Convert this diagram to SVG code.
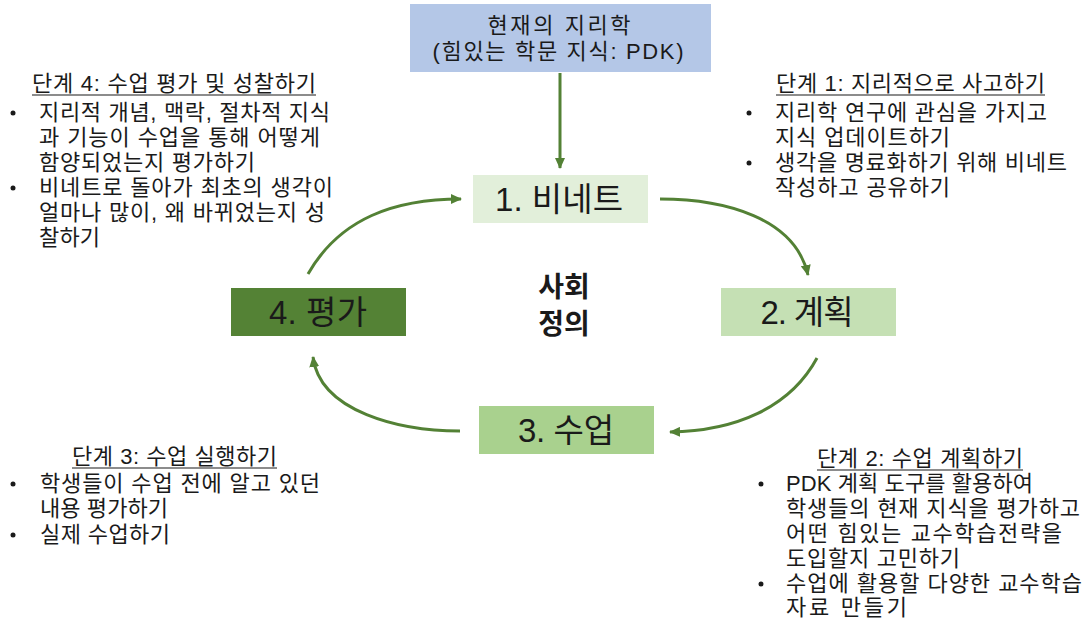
<svg xmlns="http://www.w3.org/2000/svg" width="1089" height="623" viewBox="0 0 1089 623">
<style>
.t{font-family:"Liberation Sans","Noto Sans CJK KR",sans-serif;fill:#1a1a1a;}
.s{font-size:22px;}
.n{font-size:33px;text-anchor:middle;}
.h{font-size:22px;text-anchor:middle;}
.c{font-size:28px;font-weight:bold;text-anchor:middle;}
.u{stroke:#1a1a1a;stroke-width:1.2;}
.a{fill:none;stroke:#538135;stroke-width:3;marker-end:url(#ah);}
</style>
<defs>
<marker id="ah" markerWidth="12" markerHeight="10" refX="10" refY="5" orient="auto" markerUnits="userSpaceOnUse">
<path d="M0,0 L11,5 L0,10 Z" fill="#538135"/>
</marker>
</defs>
<rect width="1089" height="623" fill="#ffffff"/>
<g id="top">
<rect x="410" y="4" width="301" height="68" fill="#B4C7E7"/>
<text class="t h" x="559" y="33" textLength="143" lengthAdjust="spacing">현재의 지리학</text>
<text class="t h" x="558" y="59" textLength="251" lengthAdjust="spacing">(힘있는 학문 지식: PDK)</text>
</g>
<g id="node1">
<rect x="473" y="175" width="175" height="48" fill="#E2EFDA"/>
<text class="t n" x="559" y="211" textLength="128" lengthAdjust="spacing">1. 비네트</text>
</g>
<g id="node2">
<rect x="721" y="288" width="175" height="48" fill="#C5E0B4"/>
<text class="t n" x="807" y="324" textLength="93" lengthAdjust="spacing">2. 계획</text>
</g>
<g id="node3">
<rect x="479" y="406" width="175" height="48" fill="#A9D18E"/>
<text class="t n" x="566" y="442" textLength="96" lengthAdjust="spacing">3. 수업</text>
</g>
<g id="node4">
<rect x="231" y="288" width="175" height="48" fill="#548235"/>
<text class="t n" x="318" y="324" textLength="98" lengthAdjust="spacing">4. 평가</text>
</g>
<g id="center">
<text class="t c" x="564" y="297">사회</text>
<text class="t c" x="564" y="334">정의</text>
</g>
<g id="connectors">
<path class="a" d="M560,73 L560,168"/>
<path class="a" d="M660,199 C725,199 795,218 808,275"/>
<path class="a" d="M817,358 C790,408 735,431 670,432"/>
<path class="a" d="M460,431 C400,431 320,412 313,357"/>
<path class="a" d="M308,274 C340,218 395,199 461,199"/>
</g>
<g id="step4">
<text class="t s" x="32" y="91" textLength="284" lengthAdjust="spacing">단계 4: 수업 평가 및 성찰하기</text>
<line class="u" x1="32" y1="95" x2="316" y2="95"/>
<circle cx="13" cy="113" r="2.5" fill="#1a1a1a"/>
<text class="t s" x="39" y="120" textLength="291" lengthAdjust="spacing">지리적 개념, 맥락, 절차적 지식</text>
<text class="t s" x="39" y="145" textLength="281" lengthAdjust="spacing">과 기능이 수업을 통해 어떻게</text>
<text class="t s" x="39" y="170" textLength="216" lengthAdjust="spacing">함양되었는지 평가하기</text>
<circle cx="13" cy="188" r="2.5" fill="#1a1a1a"/>
<text class="t s" x="39" y="195" textLength="294" lengthAdjust="spacing">비네트로 돌아가 최초의 생각이</text>
<text class="t s" x="39" y="220" textLength="286" lengthAdjust="spacing">얼마나 많이, 왜 바뀌었는지 성</text>
<text class="t s" x="39" y="245" textLength="61" lengthAdjust="spacing">찰하기</text>
</g>
<g id="step1">
<text class="t s" x="776" y="91" textLength="269" lengthAdjust="spacing">단계 1: 지리적으로 사고하기</text>
<line class="u" x1="776" y1="95" x2="1045" y2="95"/>
<circle cx="749" cy="113" r="2.5" fill="#1a1a1a"/>
<text class="t s" x="775" y="120" textLength="272" lengthAdjust="spacing">지리학 연구에 관심을 가지고</text>
<text class="t s" x="775" y="145" textLength="175" lengthAdjust="spacing">지식 업데이트하기</text>
<circle cx="749" cy="163" r="2.5" fill="#1a1a1a"/>
<text class="t s" x="775" y="170" textLength="292" lengthAdjust="spacing">생각을 명료화하기 위해 비네트</text>
<text class="t s" x="775" y="195" textLength="175" lengthAdjust="spacing">작성하고 공유하기</text>
</g>
<g id="step3">
<text class="t s" x="72" y="464" textLength="205" lengthAdjust="spacing">단계 3: 수업 실행하기</text>
<line class="u" x1="72" y1="468" x2="277" y2="468"/>
<circle cx="13" cy="484" r="2.5" fill="#1a1a1a"/>
<text class="t s" x="40" y="491" textLength="280" lengthAdjust="spacing">학생들이 수업 전에 알고 있던</text>
<text class="t s" x="40" y="516" textLength="128" lengthAdjust="spacing">내용 평가하기</text>
<circle cx="13" cy="535" r="2.5" fill="#1a1a1a"/>
<text class="t s" x="40" y="542" textLength="130" lengthAdjust="spacing">실제 수업하기</text>
</g>
<g id="step2">
<text class="t s" x="817" y="466" textLength="206" lengthAdjust="spacing">단계 2: 수업 계획하기</text>
<line class="u" x1="817" y1="470" x2="1023" y2="470"/>
<circle cx="761" cy="484" r="2.5" fill="#1a1a1a"/>
<text class="t s" x="786" y="491" textLength="247" lengthAdjust="spacing">PDK 계획 도구를 활용하여</text>
<text class="t s" x="786" y="516" textLength="294" lengthAdjust="spacing">학생들의 현재 지식을 평가하고</text>
<text class="t s" x="786" y="541" textLength="276" lengthAdjust="spacing">어떤 힘있는 교수학습전략을</text>
<text class="t s" x="786" y="566" textLength="174" lengthAdjust="spacing">도입할지 고민하기</text>
<circle cx="761" cy="584" r="2.5" fill="#1a1a1a"/>
<text class="t s" x="786" y="591" textLength="296" lengthAdjust="spacing">수업에 활용할 다양한 교수학습</text>
<text class="t s" x="786" y="615" textLength="121" lengthAdjust="spacing">자료 만들기</text>
</g>
</svg>
